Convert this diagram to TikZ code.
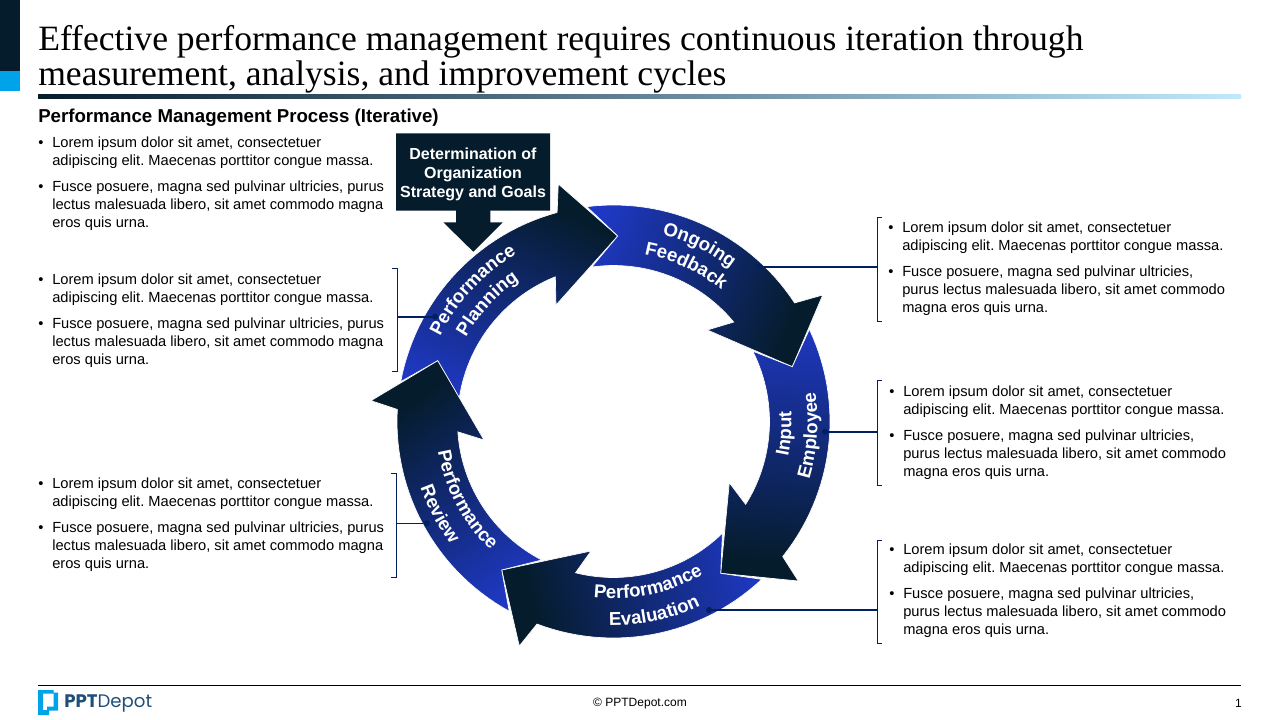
\documentclass[tikz,border=0pt]{standalone}
\usepackage{fontspec}
\setmainfont{Liberation Sans}
\newfontfamily\titlefont{Liberation Serif}
\newfontfamily\logofont{Poppins}
\usetikzlibrary{decorations.text}
\frenchspacing
\definecolor{ringblue}{HTML}{1F38C4}
\definecolor{ringdark}{HTML}{051C2C}
\definecolor{boxdark}{HTML}{051C2C}
\definecolor{navy}{HTML}{002060}
\definecolor{cyanbar}{HTML}{00A3EA}
\definecolor{logoblue}{HTML}{1F4E79}
\definecolor{rulemid}{HTML}{5E9AB8}
\definecolor{ruleend}{HTML}{C0E9FE}
\pgfdeclarehorizontalshading{ringgrad}{100bp}{color(0bp)=(ringblue); color(22bp)=(ringblue); color(72bp)=(ringdark); color(100bp)=(ringdark)}
\newcommand{\ringfont}{\fontsize{14}{16}\selectfont\bfseries}
\newcommand{\ringarrow}[9]{%
  \path[draw=white,line width=0.5pt,shade,shading=ringgrad,shading angle=#1]
    (#2) -- plot[variable=\t,domain=#3:#4,samples=30] ({613.5+216.5*cos(\t)},{421.5+216.5*sin(\t)})
    -- (#5) -- (#6) -- (#7)
    -- plot[variable=\t,domain=#8:#9,samples=30] ({613.5+156*cos(\t)},{421.5+156*sin(\t)}) -- cycle;}
\newcommand{\ringtext}[4]{%
  \path[decorate,decoration={text along path,text={|\ringfont\color{white}|#4},text align=center}]
    plot[variable=\t,domain=#2:#3,samples=60] ({613.5+#1*cos(\t)},{421.5+#1*sin(\t)});}
\newcommand{\bul}{\llap{\makebox[10.5pt][l]{\textbullet}}}
\tikzset{
  bodytext/.style={anchor=north west,inner sep=0pt,align=left,font=\fontsize{11}{13.5}\selectfont,text=black},
  ldot/.style={circle,fill=navy,inner sep=0pt,minimum size=4.5pt},
  lead/.style={draw=navy,line width=1.2pt},
  brk/.style={draw=navy,line width=0.75pt},
}
\newcommand{\loremL}{\bul Lorem ipsum dolor sit amet, consectetuer\\adipiscing elit. Maecenas porttitor congue massa.\\[6pt]\bul Fusce posuere, magna sed pulvinar ultricies, purus\\lectus malesuada libero, sit amet commodo magna\\eros quis urna.}
\newcommand{\loremR}{\bul Lorem ipsum dolor sit amet, consectetuer\\adipiscing elit. Maecenas porttitor congue massa.\\[6pt]\bul Fusce posuere, magna sed pulvinar ultricies,\\purus lectus malesuada libero, sit amet commodo\\magna eros quis urna.}
\begin{document}
\begin{tikzpicture}[x=0.75pt,y=-0.75pt]
\useasboundingbox (0,0) rectangle (1280,720);
\fill[white] (0,0) rectangle (1280,720);
% header
\fill[boxdark] (0,0) rectangle (20,71);
\fill[cyanbar] (0,71) rectangle (20,91);
\node[anchor=north west,inner sep=0pt,align=left,font=\titlefont\fontsize{26.7}{26.6}\selectfont] (title) at (38,25)
  {Effective performance management requires continuous iteration through\\measurement, analysis, and improvement cycles};
\shade[left color=boxdark,middle color=rulemid,right color=ruleend] (38,95) rectangle (1241,99);
\node[anchor=base west,inner sep=0pt,font=\fontsize{14}{16}\selectfont\bfseries] (sub) at (38,122.5) {Performance Management Process (Iterative)};
% text blocks
\node[bodytext] (t1) at (52,136.5) {\loremL};
\node[bodytext] (t2) at (52,273.5) {\loremL};
\node[bodytext] (t3) at (52,478) {\loremL};
\node[bodytext] (t4) at (902,222) {\loremR};
\node[bodytext] (t5) at (903,386) {\loremR};
\node[bodytext] (t6) at (903,544) {\loremR};
% goal box
\path[fill=boxdark] (396,133.3) -- (550,133.3) -- (550,210.7) -- (490.3,210.7) -- (490.3,222.3) -- (502.7,222.3)
  -- (473.3,251.7) -- (443.3,222.3) -- (456,222.3) -- (456,210.7) -- (396,210.7) -- cycle;
\node[inner sep=0pt,align=center,text=white,font=\fontsize{12}{14.25}\selectfont\bfseries] (goal) at (473,174)
  {Determination of\\Organization\\Strategy and Goals};
% ring arrows
\coordinate (tipPlan) at (617.7,236);
\coordinate (tipFeed) at (792.3,366.7);
\coordinate (tipEmpl) at (720.7,573.3);
\coordinate (tipEval) at (501.7,570);
\coordinate (tipRevw) at (437.7,360.7);
\ringarrow{65}{tipRevw}{190.6}{254.9}{558.3,184}{tipPlan}{556,305}{248.1}{188.7}
\ringarrow{-22}{tipPlan}{262.9}{326.8}{822.7,295}{tipFeed}{707.3,330}{320.4}{262}
\ringarrow{-95}{tipFeed}{334.8}{398.6}{798.3,581}{tipEmpl}{729.3,482.7}{392.1}{333.2}
\ringarrow{195}{tipEmpl}{406.8}{470.7}{519.3,646}{tipEval}{591,551}{464.1}{405.7}
\ringarrow{125}{tipEval}{478.8}{543.2}{371,400.7}{tipRevw}{484,440}{536.2}{477.4}
% ring labels
\ringtext{193}{183}{263}{Performance}
\ringtext{170}{183}{263}{Planning}
\ringtext{193}{256}{336}{Ongoing}
\ringtext{170}{255}{335}{Feedback}
\ringtext{204}{44}{-36}{Employee}
\ringtext{178}{44}{-36}{Input}
\ringtext{177}{118}{38}{Performance}
\ringtext{204}{118}{38}{Evaluation}
\ringtext{178}{192}{112}{Performance}
\ringtext{204}{192}{112}{Review}
% connectors
\node[ldot] (dotPlan) at (435,316.7) {};
\node[ldot] (dotFeed) at (758.3,266.7) {};
\node[ldot] (dotEmpl) at (825,431.7) {};
\node[ldot] (dotEval) at (709,610) {};
\node[ldot] (dotRevw) at (426.7,523.3) {};
\coordinate (jPlan) at (397,316.7);
\coordinate (jFeed) at (877,266.7);
\coordinate (jEmpl) at (877,431.7);
\coordinate (jEval) at (877,610);
\coordinate (jRevw) at (396,523.3);
\draw[lead] (dotPlan) -- (jPlan);
\draw[lead] (dotFeed) -- (jFeed);
\draw[lead] (dotEmpl) -- (jEmpl);
\draw[lead] (dotEval) -- (jEval);
\draw[lead] (dotRevw) -- (jRevw);
\draw[brk] (392,268.3) -- (397,268.3) -- (397,371.7) -- (392,371.7);
\draw[brk] (391,473.3) -- (396,473.3) -- (396,577.3) -- (391,577.3);
\draw[brk] (882,218) -- (877,218) -- (877,321) -- (882,321);
\draw[brk] (882,380) -- (877,380) -- (877,485) -- (882,485);
\draw[brk] (882,540) -- (877,540) -- (877,643) -- (882,643);
% footer
\draw[black,line width=0.75pt] (38,685.3) -- (1241,685.3);
\fill[cyanbar,even odd rule] (38,690) -- (53.5,690) -- (53.5,692.5) -- (58,692.5) -- (58,710.5) -- (49,710.5) -- (49,715) -- (38,715) -- cycle
  (43,693.5) -- (43,710) -- (47,710) -- (47,706.5) -- (53.5,706.5) -- (53.5,693.5) -- cycle;
\node[anchor=base west,inner sep=0pt,text=logoblue,font=\logofont\fontsize{13.6}{15}\selectfont] (logo) at (64,707.5) {\textbf{PPT}Depot};
\node[inner sep=0pt,font=\fontsize{9}{11}\selectfont] (copy) at (640,704) {© PPTDepot.com};
\node[inner sep=0pt,font=\fontsize{9}{11}\selectfont] (page) at (1238.5,703) {1};
\end{tikzpicture}
\end{document}
